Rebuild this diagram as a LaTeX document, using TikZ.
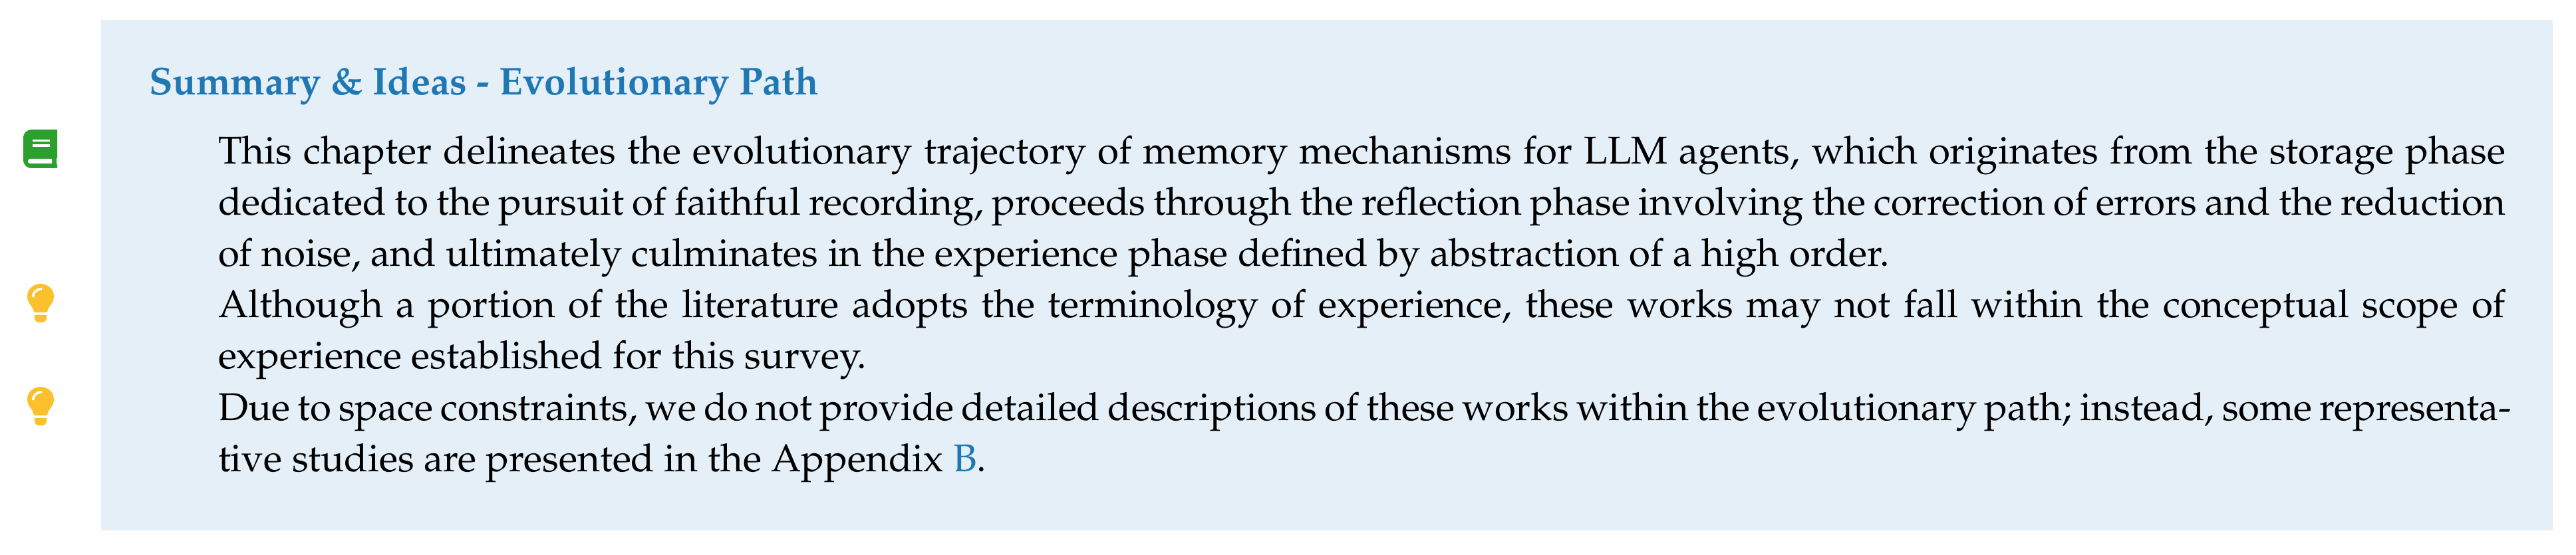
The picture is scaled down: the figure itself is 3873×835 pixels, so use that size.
\documentclass[tikz,border=0pt]{standalone}
\usepackage[T1]{fontenc}
\usepackage{mathpazo}
\usepackage{xcolor}
\usepackage{tikz}
\definecolor{boxblue}{HTML}{E4EFF8}
\definecolor{linkblue}{HTML}{1F77B4}
\definecolor{bookgreen}{HTML}{2CA02C}
\definecolor{bulbyellow}{HTML}{FBC02D}
\newcommand{\fullline}[2][537.4pt]{\makebox[#1][s]{#2}}
\tikzset{
  textline/.style={anchor=base west, inner sep=0pt, outer sep=0pt, font=\fontsize{9.09}{11}\selectfont},
  titleline/.style={textline, font=\fontsize{9.09}{11}\selectfont\bfseries, text=linkblue},
  bulb/.pic={
    \fill[bulbyellow] (51,470) .. controls (50,460) and (41,457) .. (41,446)
      .. controls (41,435) and (50,427) .. (61,427) .. controls (72,427) and (81,435) .. (81,446)
      .. controls (81,457) and (72,460) .. (71,470) -- cycle;
    \fill[bulbyellow] (52,474) -- (70,474) -- (70,479) .. controls (70,483) and (66,485) .. (64,485)
      -- (58,485) .. controls (56,485) and (52,483) .. (52,479) -- cycle;
    \draw[white, line width=0.55pt] (49.5,447) .. controls (49.5,440) and (55,435) .. (63,434.5);
  }
}
\begin{document}
\begin{tikzpicture}[x=0.15625pt, y=-0.15625pt]
\useasboundingbox (0,0) rectangle (3873,835);
\fill[boxblue] (152,30) rectangle (3838,798);
% book
\fill[bookgreen] (48,195) -- (86,195) -- (86,253) -- (48,253) .. controls (40,253) and (35,248) .. (35,240)
  -- (35,208) .. controls (35,200) and (40,195) .. (48,195) -- cycle;
\fill[white] (49,210) rectangle (75,213.5);
\fill[white] (49,217) rectangle (75,221);
\fill[white] (45,239) -- (78,239) -- (78,246) -- (45,246) .. controls (41,246) and (41,239) .. (45,239) -- cycle;
\fill[white] (84.5,238) rectangle (86,247);
% bulbs
\pic at (0,0) {bulb};
\pic at (0,155) {bulb};
% title
\node[titleline] (Title) at (224,143) {Summary \& Ideas - Evolutionary Path};
% body
\node[textline] (LineA) at (328,247) {\fullline{This chapter delineates the evolutionary trajectory of memory mechanisms for LLM agents, which originates from the storage phase}};
\node[textline] (LineB) at (328,324) {\fullline{dedicated to the pursuit of faithful recording, proceeds through the reflection phase involving the correction of errors and the reduction}};
\node[textline] (LineC) at (328,401) {of noise, and ultimately culminates in the experience phase defined by abstraction of a high order.};
\node[textline] (LineD) at (328,478) {\fullline{Although a portion of the literature adopts the terminology of experience, these works may not fall within the conceptual scope of}};
\node[textline] (LineE) at (328,555) {experience established for this survey.};
\node[textline] (LineF) at (328,633) {\fullline[538.8pt]{Due to space constraints, we do not provide detailed descriptions of these works within the evolutionary path; instead, some representa-}};
\node[textline] (LineG) at (328,710) {tive studies are presented in the Appendix \textcolor{linkblue}{B}.};
\end{tikzpicture}
\end{document}
